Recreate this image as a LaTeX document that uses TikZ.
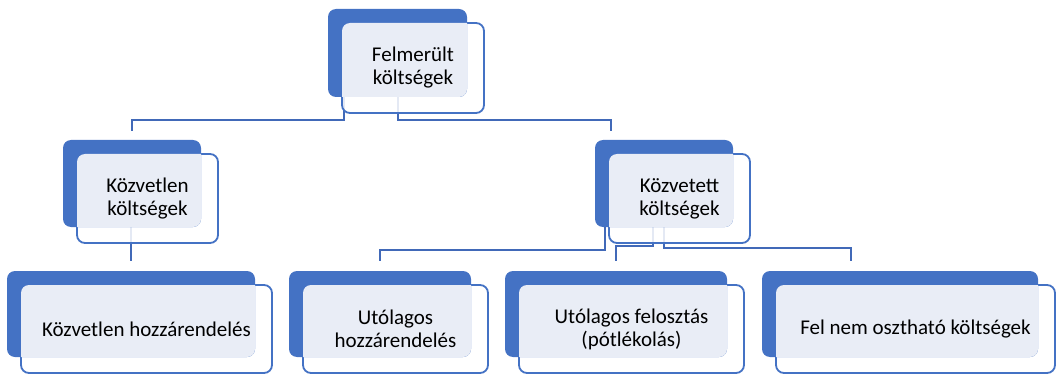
\documentclass[tikz,border=0pt]{standalone}
\usepackage{fontspec}
\setmainfont{Carlito}
\usetikzlibrary{calc,fit}

\definecolor{boxblue}{HTML}{4472C4}
\definecolor{lineblue}{HTML}{4169B8}
\definecolor{paleblue}{HTML}{E9EDF6}

\pgfdeclarelayer{wires}
\pgfsetlayers{wires,main}

\tikzset{
  backbox/.style={fill=boxblue, draw=none, rounded corners=8pt, inner sep=0pt},
  frontbox/.style={fill=white, fill opacity=0.86, draw=boxblue, draw opacity=1,
                   line width=1.8pt, rounded corners=8pt, inner sep=0pt},
  lbl/.style={font=\fontsize{21}{23}\selectfont, align=center, text=black, inner sep=0pt},
  conn/.style={draw=lineblue, line width=2.4pt},
}

% one tier box: #1 name, (#2,#3) back top-left, (#4,#5) back bottom-right, #6 text
\newcommand\tierbox[6]{%
  \coordinate (b#1nw) at (#2,#3);
  \coordinate (b#1se) at (#4,#5);
  \coordinate (f#1nw) at ($(b#1nw)+(14,14)$);
  \coordinate (f#1se) at ($(b#1se)+(17,16)$);
  \node[frontbox, fit=(f#1nw)(f#1se)] (f#1) {};
  \node[backbox, fit=(b#1nw)(b#1se)] (b#1) {};
  \begin{scope}
    \clip[rounded corners=8pt] (f#1nw) rectangle (f#1se);
    \fill[paleblue, rounded corners=8pt] (b#1nw) rectangle (b#1se);
  \end{scope}
  \node[lbl] (t#1) at (f#1) {#6};
}

\begin{document}
\begin{tikzpicture}[x=1pt, y=-1pt]
  \useasboundingbox (0,0) rectangle (1056,374);

  \tierbox{Top}{328}{9}{467}{97}{Felmerült\\költségek}
  \tierbox{Dir}{63}{140}{201}{227}{Közvetlen\\költségek}
  \tierbox{Ind}{595}{140}{733}{227}{Közvetett\\költségek}
  \tierbox{A}{7}{271}{255}{357}{Közvetlen hozzárendelés}
  \tierbox{B}{289}{271}{471}{357}{Utólagos\\hozzárendelés}
  \tierbox{C}{505}{271}{727}{357}{Utólagos felosztás\\(pótlékolás)}
  \tierbox{D}{762}{271}{1038}{357}{Fel nem osztható költségek}

  % elbow connectors, kept underneath the boxes
  \begin{pgfonlayer}{wires}
    \draw[conn] ([xshift=16pt]bTop.south west) -- ++(0,23) -| ([yshift=9pt]bDir.north);
    \draw[conn] ([xshift=70pt]bTop.south west) -- ++(0,23) -| ([xshift=16pt,yshift=9pt]bInd.north west);
    \draw[conn] (bDir.south -| bA.north) -- ([yshift=10pt]bA.north);
    \draw[conn] ([xshift=10pt]bInd.south west) -- ++(0,23) -| ([yshift=10pt]bB.north);
    \draw[conn] ([xshift=58pt]bInd.south west) -- ++(0,19) -| ([yshift=10pt]bC.north);
    \draw[conn] ([xshift=69pt]bInd.south west) -- ++(0,21) -| ([xshift=89pt,yshift=10pt]bD.north west);
  \end{pgfonlayer}
\end{tikzpicture}
\end{document}
